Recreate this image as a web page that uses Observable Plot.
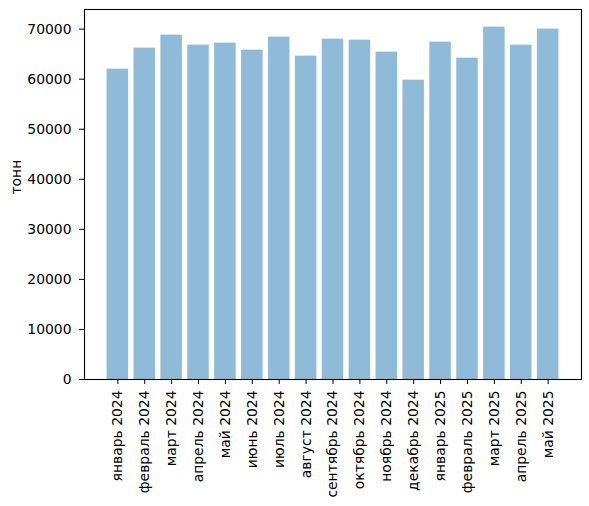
<!DOCTYPE html>
<html>
<head>
<meta charset="utf-8">
<script src="https://cdn.jsdelivr.net/npm/d3@7"></script>
<script src="https://cdn.jsdelivr.net/npm/@observablehq/plot@0.6"></script>
<style>
  body { margin: 0; background: #fff; }
  svg { display: block; }
</style>
</head>
<body>
<div id="chart"></div>
<script>
const months = ["январь 2024","февраль 2024","март 2024","апрель 2024","май 2024","июнь 2024","июль 2024","август 2024","сентябрь 2024","октябрь 2024","ноябрь 2024","декабрь 2024","январь 2025","февраль 2025","март 2025","апрель 2025","май 2025"];
const tonnes = [62000,66200,68800,66800,67200,65800,68400,64600,68000,67800,65400,59800,67400,64200,70400,66800,70000];
const yTicks = [0,10000,20000,30000,40000,50000,60000,70000];
const yLabel = "тонн";

const data = months.map((m, i) => ({month: m, value: tonnes[i]}));

const chart = Plot.plot({
  width: 589,
  height: 506,
  marginLeft: 84,
  marginRight: 8,
  marginTop: 9,
  marginBottom: 127,
  style: {fontFamily: "DejaVu Sans", fontSize: "13.9px", color: "#000", background: "#fff"},
  x: {domain: months, paddingInner: 0.2, paddingOuter: 0.84, round: false, label: null},
  y: {domain: [0, 73920], label: null},
  marks: [
    Plot.barY(data, {x: "month", y: "value", fill: "#1f77b4", fillOpacity: 0.5}),
    Plot.axisY({ticks: yTicks, tickSize: 5, tickPadding: 8, tickFormat: d => String(d), label: null, fontSize: 13.9, stroke: "#000"}),
    Plot.axisX({tickSize: 5, tickPadding: 6, tickRotate: -90, label: null, fontSize: 13.9, stroke: "#000"}),
    Plot.frame({stroke: "#000", strokeWidth: 1.1}),
    Plot.text([yLabel], {frameAnchor: "left", dx: -68, rotate: -90, fontSize: 13.9, fill: "#000"})
  ]
});
document.getElementById("chart").appendChild(chart);
</script>
</body>
</html>
